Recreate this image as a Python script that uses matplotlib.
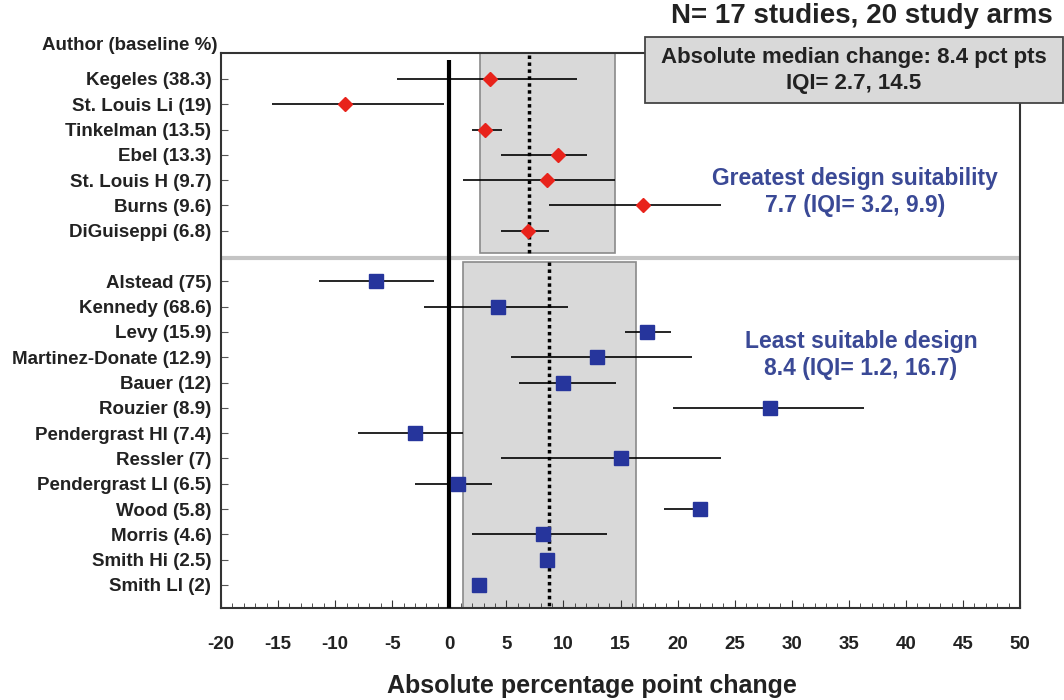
"""Forest plot of absolute percentage point change by study design suitability."""

import matplotlib
matplotlib.use("Agg")
import matplotlib.pyplot as plt
import numpy as np
from matplotlib.patches import Rectangle
from matplotlib.ticker import MultipleLocator

plt.rcParams["font.family"] = ["Liberation Sans", "DejaVu Sans"]
plt.rcParams["font.weight"] = "bold"
plt.rcParams["axes.unicode_minus"] = False

TEXT = "#222222"
RED = "#e8231b"
BLUE = "#26359c"
NOTE_BLUE = "#3a4996"
SHADE = "#d9d9d9"

# greatest design suitability arms
top_labels = ["Kegeles (38.3)", "St. Louis Li (19)", "Tinkelman (13.5)", "Ebel (13.3)",
              "St. Louis H (9.7)", "Burns (9.6)", "DiGuiseppi (6.8)"]
top_est = [3.6, -9.1, 3.1, 9.5, 8.6, 17.0, 6.9]
top_lo = [-4.6, -15.5, 2.0, 4.5, 1.2, 8.7, 4.5]
top_hi = [11.2, -0.5, 4.6, 12.1, 14.5, 23.8, 8.7]
top_iqi = (2.7, 14.5)
top_median = 7.0

# least suitable design arms
bottom_labels = ["Alstead (75)", "Kennedy (68.6)", "Levy (15.9)", "Martinez-Donate (12.9)",
                 "Bauer (12)", "Rouzier (8.9)", "Pendergrast HI (7.4)", "Ressler (7)",
                 "Pendergrast LI (6.5)", "Wood (5.8)", "Morris (4.6)", "Smith Hi (2.5)",
                 "Smith LI (2)"]
bottom_est = [-6.4, 4.3, 17.3, 12.9, 10.0, 28.1, -3.0, 15.0, 0.8, 22.0, 8.2, 8.6, 2.6]
bottom_lo = [-11.4, -2.2, 15.4, 5.4, 6.1, 19.6, -8.0, 4.5, -3.0, 18.8, 2.0, np.nan, np.nan]
bottom_hi = [-1.3, 10.4, 19.4, 21.3, 14.6, 36.3, 1.2, 23.8, 3.7, 22.6, 13.8, np.nan, np.nan]
bottom_iqi = (1.2, 16.4)
bottom_median = 8.7


def main():
    fig = plt.figure(figsize=(10.64, 7.0), dpi=100)
    ax = fig.add_axes([221 / 1064, 0.1314, 799 / 1064, 0.793])

    y_top = np.arange(len(top_labels))
    y_bottom = np.arange(len(bottom_labels)) + len(top_labels) + 1
    y_sep = len(top_labels) + 0.07
    y_min, y_max = -1.03, 20.91

    # shaded IQI bands and median lines
    ax.add_patch(Rectangle((top_iqi[0], y_min), top_iqi[1] - top_iqi[0], y_sep - 0.2 - y_min,
                           facecolor=SHADE, edgecolor="#8a8a8a", linewidth=1.2, zorder=1))
    ax.add_patch(Rectangle((bottom_iqi[0], y_sep + 0.18), bottom_iqi[1] - bottom_iqi[0],
                           y_max - y_sep - 0.18, facecolor=SHADE, edgecolor="#8a8a8a",
                           linewidth=1.2, zorder=1))
    ax.vlines(top_median, y_min + 0.1, y_sep - 0.2, color="black", linewidth=2.5,
              linestyle=(0, (1, 1)), zorder=2)
    ax.vlines(bottom_median, y_sep + 0.18, y_max, color="black", linewidth=2.5,
              linestyle=(0, (1, 1)), zorder=2)

    ax.axhline(y_sep, color="#c4c4c4", linewidth=3, zorder=2)
    ax.vlines(0, -0.75, y_max, color="black", linewidth=3, zorder=3)

    ax.hlines(y_top, top_lo, top_hi, color="black", linewidth=1.2, zorder=4)
    ax.plot(top_est, y_top, linestyle="none", marker="D", markersize=7.5, color=RED, zorder=5)
    ax.hlines(y_bottom, bottom_lo, bottom_hi, color="black", linewidth=1.2, zorder=4)
    ax.plot(bottom_est, y_bottom, linestyle="none", marker="s", markersize=10, color=BLUE, zorder=5)

    ax.set_xlim(-20, 50)
    ax.set_ylim(y_max, y_min)
    ax.set_yticks(np.concatenate([y_top, y_bottom]))
    ax.set_yticklabels(top_labels + bottom_labels, fontsize=13.5, fontweight="bold", color=TEXT)
    ax.tick_params(axis="y", direction="in", length=5, pad=7, color="#555555")
    ax.xaxis.set_major_locator(MultipleLocator(5))
    ax.xaxis.set_minor_locator(MultipleLocator(1))
    ax.tick_params(axis="x", which="major", direction="in", length=6, pad=20,
                   labelsize=13.5, labelcolor=TEXT, color="#333333")
    ax.tick_params(axis="x", which="minor", direction="in", length=3.5, color="#333333")
    for label in ax.get_xticklabels():
        label.set_fontweight("bold")
    for spine in ax.spines.values():
        spine.set_color("#333333")
        spine.set_linewidth(1.5)

    fig.text(592 / 1064, 1 - 686 / 700, "Absolute percentage point change", ha="center",
             va="center", fontsize=18, fontweight="bold", color=TEXT)

    ax.text(0.7935, 0.7495, "Greatest design suitability\n7.7 (IQI= 3.2, 9.9)",
            transform=ax.transAxes, ha="center", va="center", fontsize=16.5,
            fontweight="bold", color=NOTE_BLUE, linespacing=1.25)
    ax.text(0.801, 0.456, "Least suitable design\n8.4 (IQI= 1.2, 16.7)",
            transform=ax.transAxes, ha="center", va="center", fontsize=16.5,
            fontweight="bold", color=NOTE_BLUE, linespacing=1.2)

    fig.text(218 / 1064, 1 - 45 / 700, "Author (baseline %)", ha="right", va="center",
             fontsize=13.5, fontweight="bold", color=TEXT)
    fig.text(862 / 1064, 1 - 16 / 700, "N= 17 studies, 20 study arms", ha="center",
             va="center", fontsize=20, fontweight="bold", color=TEXT)

    fig.patches.append(Rectangle((645 / 1064, 1 - 103 / 700), 418 / 1064, 66 / 700,
                                 transform=fig.transFigure, facecolor=SHADE,
                                 edgecolor="#444444", linewidth=1.3, zorder=10))
    fig.text(854 / 1064, 1 - 58 / 700, "Absolute median change: 8.4 pct pts", ha="center",
             va="center", fontsize=16, fontweight="bold", color=TEXT, zorder=11)
    fig.text(854 / 1064, 1 - 84 / 700, "IQI= 2.7, 14.5", ha="center", va="center",
             fontsize=16, fontweight="bold", color=TEXT, zorder=11)

    fig.savefig("out.png", dpi=100)


if __name__ == "__main__":
    main()
